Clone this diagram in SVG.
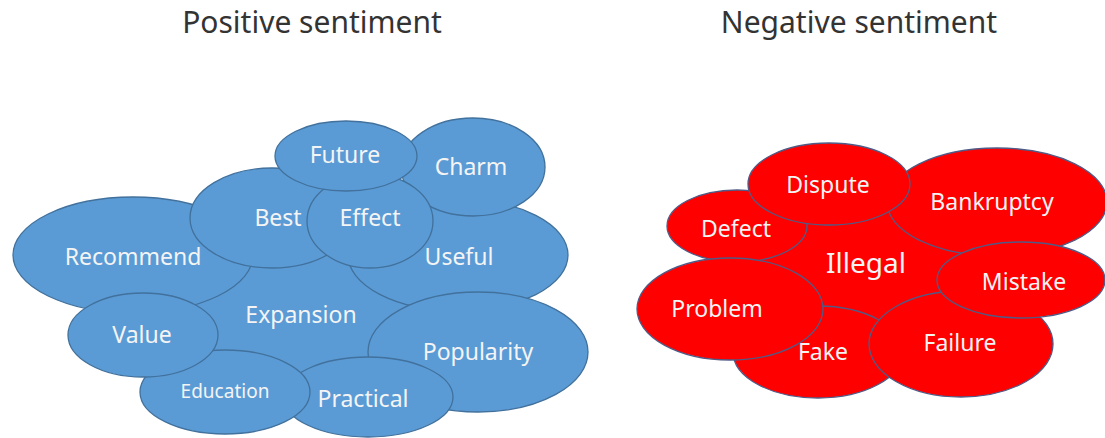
<svg xmlns="http://www.w3.org/2000/svg" width="1105" height="438" viewBox="0 0 1105 438">
<style>
.title{font-family:"Noto Sans","Open Sans",sans-serif;font-size:30px;fill:#333;text-anchor:middle}
.b{fill:#5b9bd5;stroke:#41719c;stroke-width:1.3}
.r{fill:#ff0000;stroke:#4f5b86;stroke-width:1.3}
.t{font-family:"Noto Sans","Open Sans",sans-serif;font-size:23px;fill:#f4f4f4;text-anchor:middle}
</style>
<rect width="1105" height="438" fill="#fff"/>
<text class="title" x="312" y="33">Positive sentiment</text>
<text class="title" x="859" y="33">Negative sentiment</text>
<g id="connectors"/>
<g id="positive">
<g id="expansion"><ellipse class="b" cx="300" cy="314" rx="110" ry="62"/><text class="t" x="301" y="323">Expansion</text></g>
<g id="recommend"><ellipse class="b" cx="133" cy="255" rx="120" ry="58"/><text class="t" x="133" y="265">Recommend</text></g>
<g id="best"><ellipse class="b" cx="272" cy="218" rx="82" ry="50"/><text class="t" x="278" y="226">Best</text></g>
<g id="useful"><ellipse class="b" cx="458" cy="255" rx="110" ry="56"/><text class="t" x="459" y="265">Useful</text></g>
<g id="charm"><ellipse class="b" cx="473" cy="167" rx="72" ry="49"/><text class="t" x="471" y="175">Charm</text></g>
<g id="effect"><ellipse class="b" cx="370" cy="221" rx="63" ry="47"/><text class="t" x="370" y="226">Effect</text></g>
<g id="future"><ellipse class="b" cx="346" cy="156" rx="71" ry="35"/><text class="t" x="345" y="163">Future</text></g>
<g id="popularity"><ellipse class="b" cx="478" cy="352" rx="110" ry="60"/><text class="t" x="478" y="360">Popularity</text></g>
<g id="practical"><ellipse class="b" cx="368" cy="397" rx="85" ry="40"/><text class="t" x="363" y="407">Practical</text></g>
<g id="education"><ellipse class="b" cx="225" cy="392" rx="85" ry="42"/><text class="t" x="225" y="398" style="font-size:19px">Education</text></g>
<g id="value"><ellipse class="b" cx="143" cy="335" rx="75" ry="42"/><text class="t" x="142" y="343">Value</text></g>
</g>
<g id="negative">
<g id="illegal"><ellipse class="r" cx="868" cy="262" rx="115" ry="58"/><text class="t" x="866" y="273" style="font-size:28px">Illegal</text></g>
<g id="fake"><ellipse class="r" cx="818" cy="352" rx="85" ry="46"/><text class="t" x="823" y="360">Fake</text></g>
<g id="failure"><ellipse class="r" cx="961" cy="344" rx="92" ry="53"/><text class="t" x="960" y="351">Failure</text></g>
<g id="bankruptcy"><ellipse class="r" cx="997" cy="202" rx="110" ry="54"/><text class="t" x="992" y="210">Bankruptcy</text></g>
<g id="mistake"><ellipse class="r" cx="1021" cy="280" rx="84" ry="38"/><text class="t" x="1024" y="290">Mistake</text></g>
<g id="defect"><ellipse class="r" cx="737" cy="226" rx="70" ry="36"/><text class="t" x="736" y="237">Defect</text></g>
<g id="problem"><ellipse class="r" cx="730" cy="309" rx="93" ry="51"/><text class="t" x="717" y="317">Problem</text></g>
<g id="dispute"><ellipse class="r" cx="829" cy="184" rx="81" ry="41"/><text class="t" x="828" y="193">Dispute</text></g>
</g>
</svg>
